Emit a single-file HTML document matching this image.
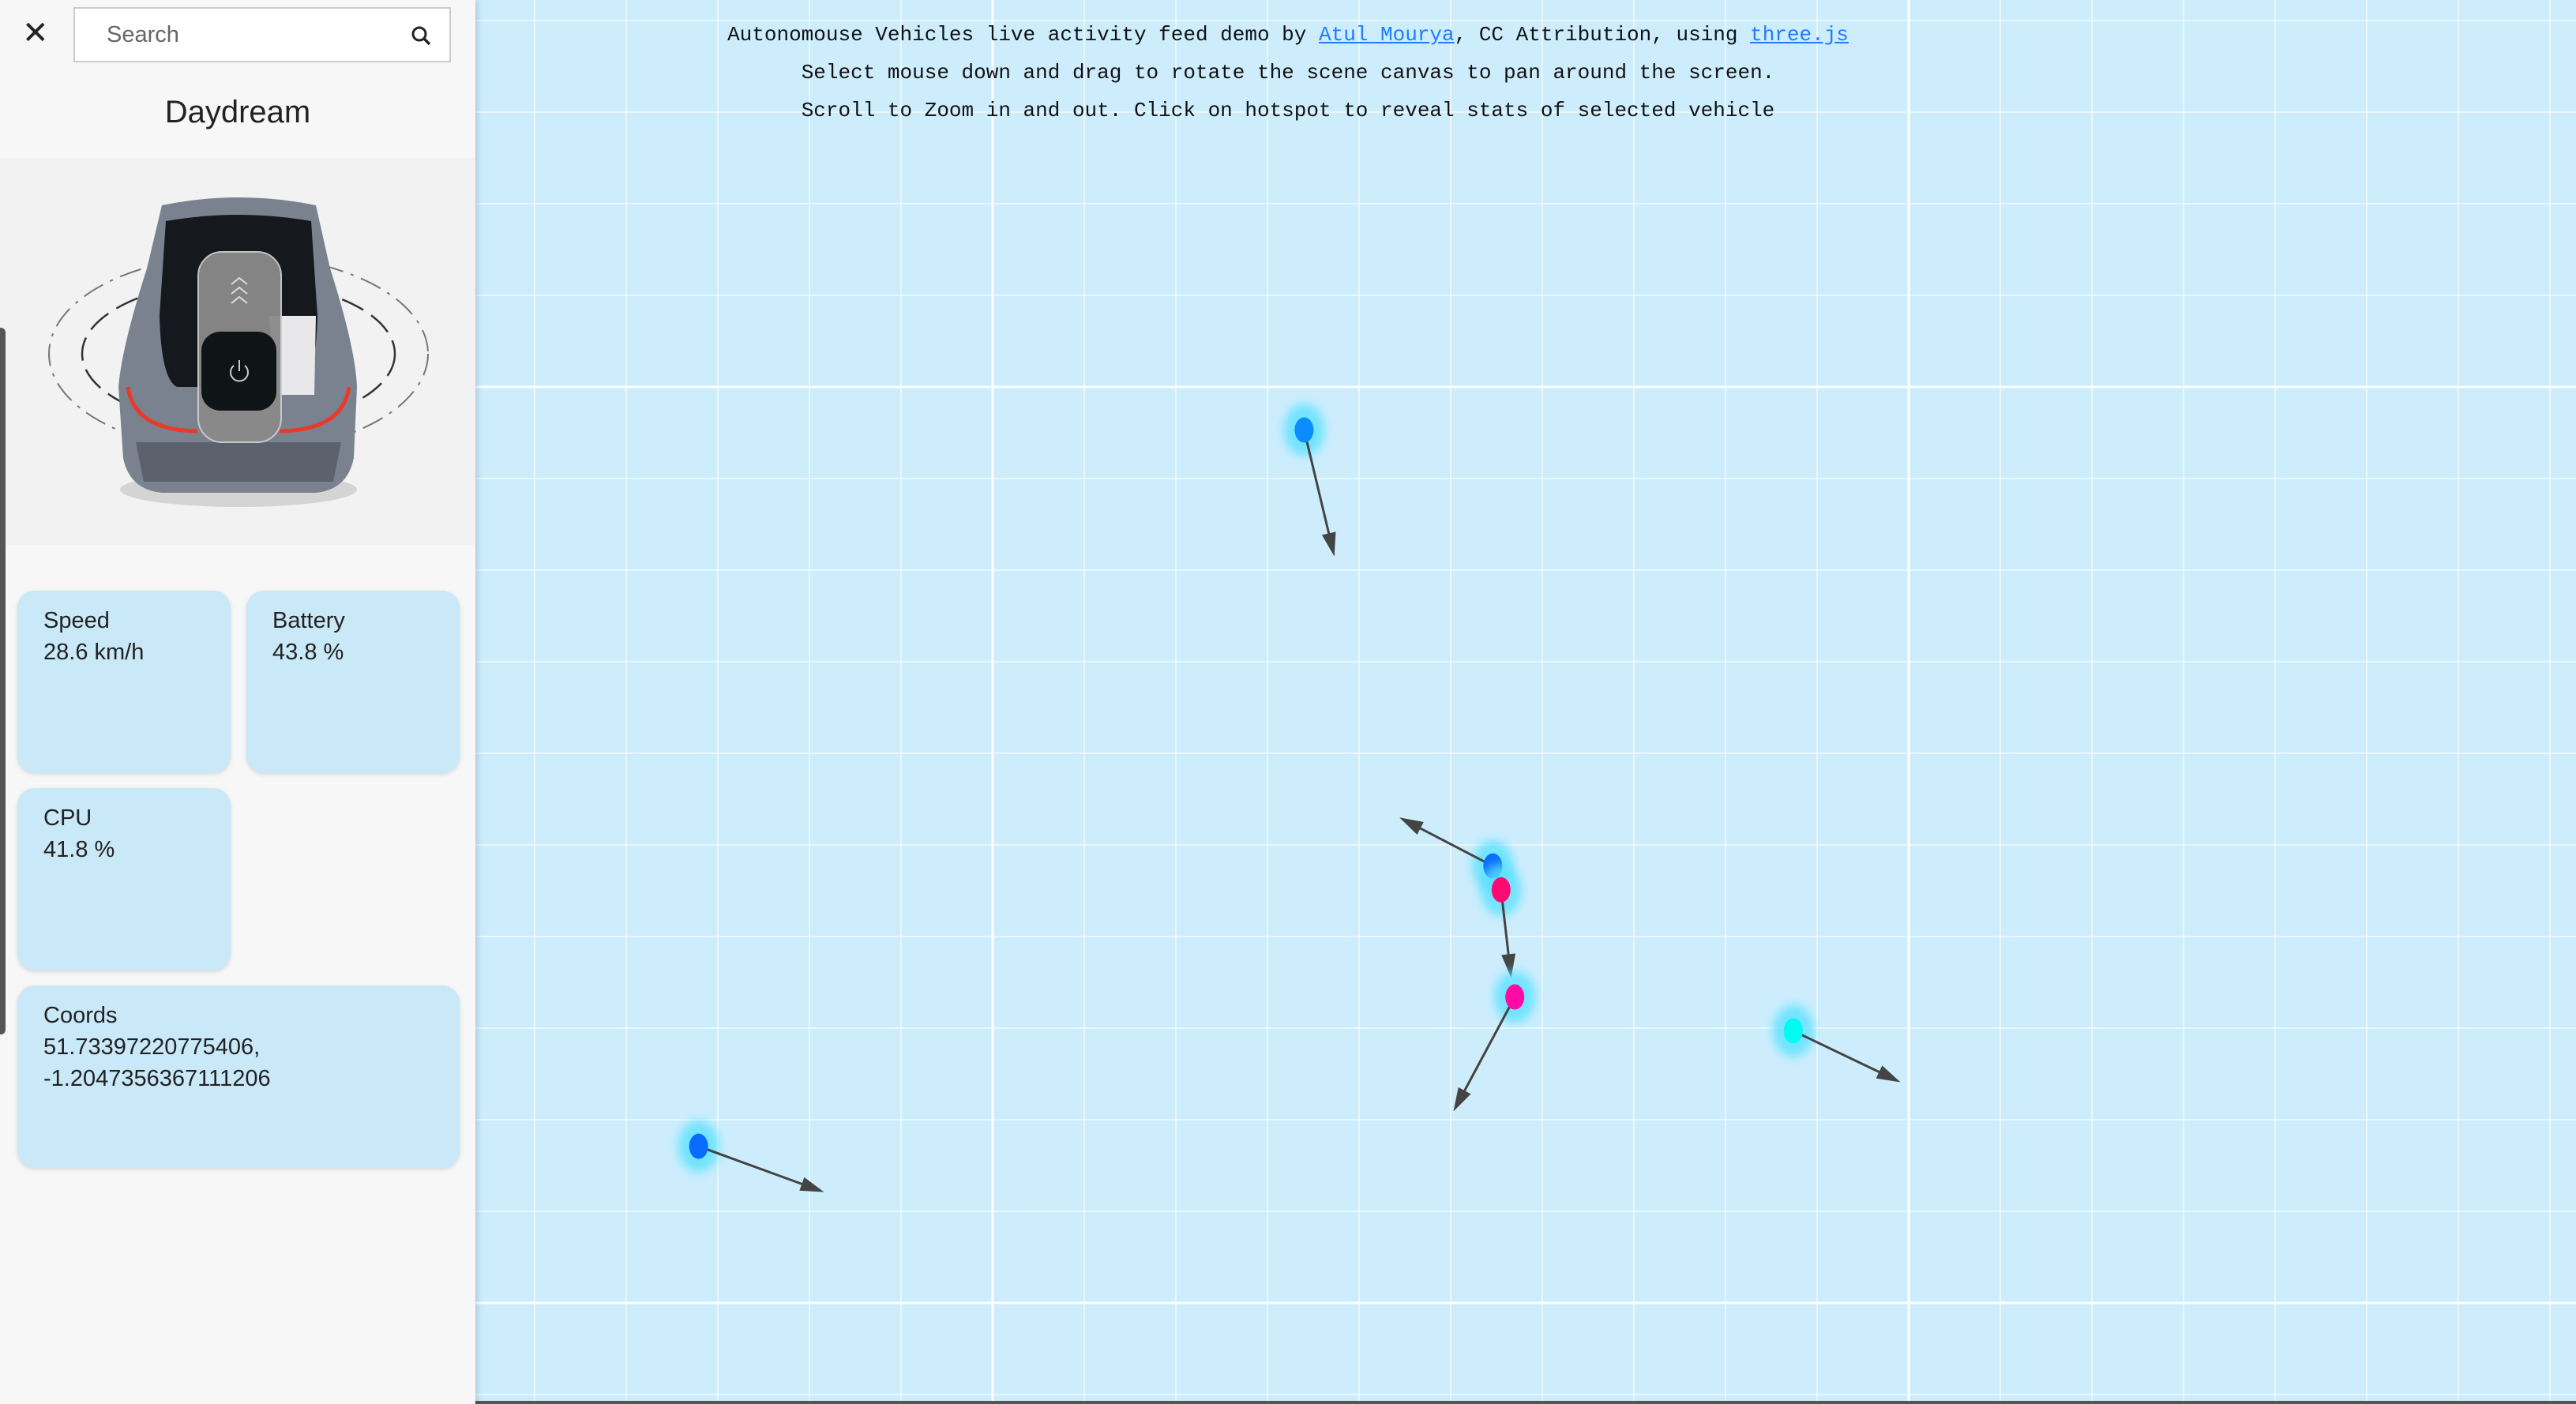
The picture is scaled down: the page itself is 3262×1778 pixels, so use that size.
<!DOCTYPE html>
<html><head><meta charset="utf-8">
<style>
html,body{margin:0;padding:0;width:3262px;height:1778px;overflow:hidden;background:#cdedfd;font-family:"Liberation Sans",sans-serif}
#scene{position:absolute;left:0;top:0}
#info{position:absolute;left:0;top:20px;width:3262px;text-align:center;font-family:"Liberation Mono",monospace;font-size:26px;line-height:48px;color:#111;white-space:pre}
#info a{color:#1f7cff;text-decoration:underline}
#panel{position:absolute;left:0;top:0;width:602px;height:1778px;background:#f7f7f7;box-shadow:2px 0 8px rgba(0,0,0,0.18)}
.card{position:absolute;background:#c9e8f8;border-radius:22px;box-shadow:0 2px 6px rgba(0,0,0,0.12);font-size:29px;line-height:40px;color:#222;padding:18px 0 0 33px;box-sizing:border-box}
</style></head><body>
<svg id="scene" width="3262" height="1778">
  <rect x="0" y="0" width="3262" height="1778" fill="#cdedfd"/>
  <g id="grid"></g>
  <g id="marks"></g>
  <rect x="0" y="1774" width="3262" height="4" fill="#555"/>
</svg>
<div id="info">Autonomouse Vehicles live activity feed demo by <a>Atul Mourya</a>, CC Attribution, using <a>three.js</a>
Select mouse down and drag to rotate the scene canvas to pan around the screen.
Scroll to Zoom in and out. Click on hotspot to reveal stats of selected vehicle</div>

<div id="panel">
  <div style="position:absolute;left:28px;top:20px;font-size:40px;line-height:44px;color:#222">✕</div>
  <div style="position:absolute;left:93px;top:9px;width:478px;height:70px;box-sizing:border-box;border:2px solid #ccc;background:#fff">
    <span style="position:absolute;left:40px;top:17px;font-size:29px;color:#666">Search</span>
    <svg style="position:absolute;left:425px;top:21px" width="28" height="28"><circle cx="11" cy="11" r="8" fill="none" stroke="#222" stroke-width="3"/><line x1="17" y1="17" x2="24" y2="24" stroke="#222" stroke-width="3.5"/></svg>
  </div>
  <div style="position:absolute;left:0;width:602px;top:120px;text-align:center;font-size:40px;color:#222">Daydream</div>
  <div style="position:absolute;left:0;top:200px;width:602px;height:490px;background:#f2f2f2"></div>
  <svg style="position:absolute;left:0;top:200px" width="602" height="490">
    <ellipse cx="302" cy="248" rx="240" ry="125" fill="none" stroke="#777" stroke-width="2" stroke-dasharray="28 10 4 10"/>
    <ellipse cx="302" cy="248" rx="198" ry="92" fill="none" stroke="#333" stroke-width="2.5" stroke-dasharray="30 12"/>
    <ellipse cx="302" cy="420" rx="150" ry="22" fill="#000" opacity="0.12"/>
    <path d="M205 60 Q302 40 400 60 L418 140 Q450 240 452 290 L448 380 Q440 420 400 424 L205 424 Q164 420 156 380 L150 290 Q154 240 186 140 Z" fill="#7a8290"/>
    <path d="M210 80 Q302 64 394 80 L402 200 Q400 280 380 290 L224 290 Q204 280 202 200 Z" fill="#15181d"/>
    <path d="M340 200 L400 200 L398 300 L352 300 Z" fill="#e8e8ea"/>
    <path d="M162 290 Q170 345 250 346" fill="none" stroke="#e83a2a" stroke-width="5"/>
    <path d="M442 290 Q434 345 354 346" fill="none" stroke="#e83a2a" stroke-width="5"/>
    <path d="M172 360 L432 360 L422 410 L182 410 Z" fill="#5b626c"/>
    <rect x="251" y="119" width="105" height="241" rx="30" fill="#8a8a8a" stroke="#ccc" stroke-width="2" opacity="0.95"/>
    <path d="M293 160 L303 152 L313 160 M293 172 L303 164 L313 172 M293 184 L303 176 L313 184" fill="none" stroke="#ddd" stroke-width="2"/>
    <rect x="255" y="220" width="95" height="100" rx="24" fill="#0f1516"/>
    <path d="M296 263 A11 11 0 1 0 310 263" fill="none" stroke="#ccc" stroke-width="2"/>
    <line x1="303" y1="256" x2="303" y2="270" stroke="#ccc" stroke-width="2"/>
  </svg>
  <div class="card" style="left:22px;top:748px;width:270px;height:231px">Speed<br>28.6 km/h</div>
  <div class="card" style="left:312px;top:748px;width:270px;height:231px">Battery<br>43.8 %</div>
  <div class="card" style="left:22px;top:998px;width:270px;height:231px">CPU<br>41.8 %</div>
  <div class="card" style="left:22px;top:1248px;width:560px;height:231px">Coords<br>51.73397220775406,<br>-1.2047356367111206</div>
  <div style="position:absolute;left:0;top:415px;width:7px;height:895px;background:#555;border-radius:0 6px 6px 0"></div>
</div>

<script>
// vehicle data in grid units
const vehicleX = [3.40, 5.46, 5.55, 5.70, 8.74, -3.21];
const vehicleY = [0.47, 5.23, 5.49, 6.66, 7.03, 8.29];
const headingX = [3.73, 4.44, 5.66, 5.03, 9.91, -1.84];
const headingY = [1.85, 4.70, 6.45, 7.91, 7.59, 8.79];
const vehicleColors = ["#0a8cff", "#0a6cff", "#ff0a70", "#ff0aa5", "#00fbf0", "#0a6cff"];

const NS = "http://www.w3.org/2000/svg";
const CELL = 116, OX = 1257, OY = 490;
function px(v){ return OX + v * CELL; }
function py(v){ return OY + v * CELL; }

const grid = document.getElementById('grid');
for (let k = -11; k <= 18; k++) {
  const l = document.createElementNS(NS, 'line');
  const x = px(k);
  l.setAttribute('x1', x); l.setAttribute('x2', x); l.setAttribute('y1', 0); l.setAttribute('y2', 1778);
  const major = k % 10 === 0;
  l.setAttribute('stroke', major ? 'rgba(255,255,255,0.95)' : 'rgba(255,255,255,0.55)');
  l.setAttribute('stroke-width', major ? 3 : 2);
  
  
  grid.appendChild(l);
}
for (let k = -4; k <= 11; k++) {
  const l = document.createElementNS(NS, 'line');
  const y = py(k);
  l.setAttribute('x1', 0); l.setAttribute('x2', 3262); l.setAttribute('y1', y); l.setAttribute('y2', y);
  const major = k % 10 === 0;
  l.setAttribute('stroke', major ? 'rgba(255,255,255,0.95)' : 'rgba(255,255,255,0.55)');
  l.setAttribute('stroke-width', major ? 3 : 2);
  
  
  grid.appendChild(l);
}

const defs = document.createElementNS(NS, 'defs');
defs.innerHTML = '<filter id="blur" x="-50%" y="-50%" width="200%" height="200%"><feGaussianBlur stdDeviation="6"/></filter>';
document.getElementById('scene').appendChild(defs);

const marks = document.getElementById('marks');
for (let i = 0; i < vehicleX.length; i++) {
  const x = px(vehicleX[i]), y = py(vehicleY[i]);
  const tx = px(headingX[i]), ty = py(headingY[i]);
  const g = document.createElementNS(NS, 'g');
  
  
  const glow = document.createElementNS(NS, 'ellipse');
  glow.setAttribute('cx', x); glow.setAttribute('cy', y); glow.setAttribute('rx', 26); glow.setAttribute('ry', 33);
  glow.setAttribute('fill', 'rgba(90,225,255,0.8)'); glow.setAttribute('filter', 'url(#blur)');
  
  
  g.appendChild(glow);
  const ang = Math.atan2(ty - y, tx - x);
  const ex = tx - Math.cos(ang) * 26, ey = ty - Math.sin(ang) * 26;
  const line = document.createElementNS(NS, 'line');
  line.setAttribute('x1', x); line.setAttribute('y1', y); line.setAttribute('x2', ex); line.setAttribute('y2', ey);
  line.setAttribute('stroke', '#444'); line.setAttribute('stroke-width', 3);
  
  
  g.appendChild(line);
  const hw = 9, hl = 30;
  const bx = tx - Math.cos(ang) * hl, by = ty - Math.sin(ang) * hl;
  const nx = -Math.sin(ang) * hw, ny = Math.cos(ang) * hw;
  const head = document.createElementNS(NS, 'polygon');
  head.setAttribute('points', `${tx},${ty} ${bx+nx},${by+ny} ${bx-nx},${by-ny}`);
  head.setAttribute('fill', '#444');
  
  
  g.appendChild(head);
  const dot = document.createElementNS(NS, 'ellipse');
  dot.setAttribute('cx', x); dot.setAttribute('cy', y); dot.setAttribute('rx', 12); dot.setAttribute('ry', 16);
  dot.setAttribute('fill', vehicleColors[i]);
  
  
  g.appendChild(dot);
  marks.appendChild(g);
}
</script>
</body></html>
